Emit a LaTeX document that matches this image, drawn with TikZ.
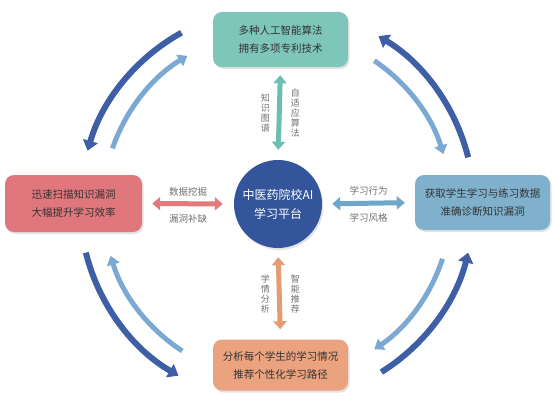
\documentclass[tikz,border=0pt]{standalone}
\usepackage{fontspec}
\setmainfont{Noto Sans CJK SC}
\usetikzlibrary{arrows.meta,shadows}
\definecolor{tealbox}{HTML}{7EC6BA}
\definecolor{tealarr}{HTML}{6CBFAE}
\definecolor{redbox}{HTML}{E0777C}
\definecolor{redarr}{HTML}{E07A7B}
\definecolor{bluebox}{HTML}{80B1CC}
\definecolor{bluearr}{HTML}{6FA6C9}
\definecolor{orbox}{HTML}{EAA37E}
\definecolor{orarr}{HTML}{E59C73}
\definecolor{circ}{HTML}{34559B}
\definecolor{darkarc}{HTML}{3E5FA5}
\definecolor{lightarc}{HTML}{7CA9D3}
\definecolor{boxtext}{HTML}{333333}
\definecolor{labtext}{HTML}{707070}
\begin{document}
\begin{tikzpicture}[x=1pt,y=-1pt,
  box/.style={rounded corners=9pt, minimum width=135pt, minimum height=55pt,
    align=center, text=boxtext, inner sep=0pt, font=\fontsize{10.5}{18}\selectfont,
    drop shadow={shadow xshift=1.5pt,shadow yshift=-2pt,opacity=0.22}},
  hub/.style={circle, fill=circ, minimum size=88pt, inner sep=0pt, text=white,
    align=center, font=\fontsize{12}{19}\selectfont,
    drop shadow={shadow xshift=1.5pt,shadow yshift=-2pt,opacity=0.22}},
  dbl/.style={line width=5pt, {Triangle[length=8pt,width=13pt]}-{Triangle[length=8pt,width=13pt]}},
  lab/.style={text=labtext, inner sep=0pt, font=\fontsize{9.5}{10}\selectfont},
  vlab/.style={text=labtext, inner sep=0pt, align=center, font=\fontsize{9}{10}\selectfont},
  outerarc/.style={draw=darkarc, line width=6pt, -{Triangle[length=10pt,width=15pt]}},
  innerarc/.style={draw=lightarc, line width=5pt, -{Triangle[length=9pt,width=13pt]}}]
\useasboundingbox (0,0) rectangle (556,404);

\node[box, fill=tealbox] (topbox) at (280.5,39.5) {多种人工智能算法\\拥有多项专利技术};
\node[box, fill=redbox, minimum width=137pt, minimum height=57pt] (leftbox) at (73.5,203.5) {迅速扫描知识漏洞\\大幅提升学习效率};
\node[box, fill=bluebox] (rightbox) at (482.5,202.5) {获取学生学习与练习数据\\准确诊断知识漏洞};
\node[box, fill=orbox, minimum height=51pt] (botbox) at (280.5,365) {分析每个学生的学习情况\\推荐个性化学习路径};
\node[hub] (hub) at (278,204) {中医药院校AI\\学习平台};

\draw[dbl, tealarr, shorten <=8pt, shorten >=10pt] (topbox.south) --
  node[vlab, left=7pt] {知\\识\\图\\谱}
  node[vlab, right=9pt] {自\\适\\应\\算\\法} (hub.north);
\draw[dbl, redarr, shorten <=10pt, shorten >=11pt] (leftbox.east) --
  node[lab, above=5pt] {数据挖掘}
  node[lab, below=8pt] {漏洞补缺} (hub.west);
\draw[dbl, bluearr, shorten <=10pt, shorten >=10pt] (hub.east) --
  node[lab, above=5pt] {学习行为}
  node[lab, below=8pt] {学习风格} (rightbox.west);
\draw[dbl, orarr, shorten <=9pt, shorten >=10pt] (hub.south) --
  node[vlab, left=7pt] {学\\情\\分\\析}
  node[vlab, right=9pt] {智\\能\\推\\荐} (botbox.north);

\coordinate (o) at (277,205);
% top-left
\draw[outerarc] (o) ++(119:197pt) arc[start angle=119, end angle=164, radius=197pt];
\draw[innerarc] (o) ++(161:174pt) arc[start angle=161, end angle=121, radius=174pt];
% top-right
\draw[outerarc] (o) ++(14:197pt) arc[start angle=14, end angle=59, radius=197pt];
\draw[innerarc] (o) ++(56:174pt) arc[start angle=56, end angle=17, radius=174pt];
% bottom-left
\draw[outerarc] (o) ++(194:197pt) arc[start angle=194, end angle=240, radius=197pt];
\draw[innerarc] (o) ++(237:174pt) arc[start angle=237, end angle=197, radius=174pt];
% bottom-right
\draw[outerarc] (o) ++(302:197pt) arc[start angle=302, end angle=346, radius=197pt];
\draw[innerarc] (o) ++(342:174pt) arc[start angle=342, end angle=304, radius=174pt];
\end{tikzpicture}
\end{document}
